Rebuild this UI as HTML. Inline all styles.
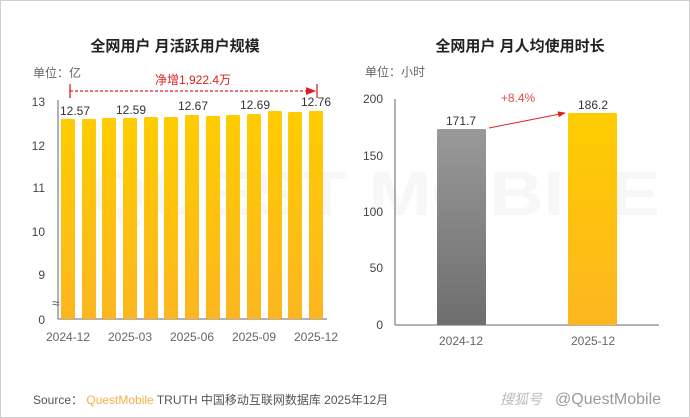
<!DOCTYPE html>
<html><head><meta charset="utf-8"><style>
html,body{margin:0;padding:0;background:#fff;}
svg{display:block;font-family:"Liberation Sans","Noto Sans CJK SC",sans-serif;}
</style></head><body>
<svg width="690" height="418" viewBox="0 0 690 418" xmlns="http://www.w3.org/2000/svg">
<defs>
<linearGradient id="yg" x1="0" y1="0" x2="0" y2="1"><stop offset="0" stop-color="#ffcc00"/><stop offset="1" stop-color="#fdb620"/></linearGradient>
<linearGradient id="gg" x1="0" y1="0" x2="0" y2="1"><stop offset="0" stop-color="#999"/><stop offset="1" stop-color="#6e6e6e"/></linearGradient>
<marker id="ar" markerWidth="8" markerHeight="6" refX="7" refY="3" orient="auto"><path d="M0,0L8,3L0,6z" fill="#e02020"/></marker>
</defs>
<rect x="0.5" y="0.5" width="689" height="417" fill="#fff" stroke="#d0d0d0"/>
<text x="90" y="215" font-size="62" fill="#f7f7f7" font-weight="bold" textLength="570" lengthAdjust="spacingAndGlyphs">QUEST MOBILE</text>
<!-- left -->
<text x="175" y="51" font-size="15" font-weight="bold" fill="#222" text-anchor="middle">全网用户 月活跃用户规模</text>
<text x="33" y="77" font-size="12" fill="#666">单位：亿</text>
<text x="193" y="84" font-size="12" fill="#e02020" text-anchor="middle">净增1,922.4万</text>
<line x1="70" y1="91" x2="315" y2="91" stroke="#e02020" stroke-width="1.3" stroke-dasharray="3,2" marker-end="url(#ar)"/>
<line x1="70" y1="84" x2="70" y2="98" stroke="#e02020" stroke-width="1.3"/>
<line x1="317" y1="84" x2="317" y2="98" stroke="#e02020" stroke-width="1.3"/>
<g font-size="12" fill="#444" text-anchor="end">
<text x="45" y="106">13</text><text x="45" y="150">12</text><text x="45" y="192">11</text><text x="45" y="236">10</text><text x="45" y="279">9</text><text x="45" y="324">0</text>
</g>
<text x="52" y="308" font-size="14" fill="#666">≈</text>
<line x1="58" y1="100" x2="58" y2="319" stroke="#666"/>
<line x1="58" y1="319" x2="327" y2="319" stroke="#666"/>
<g fill="url(#yg)">
<rect x="61" y="119" width="14" height="200" rx="1.5"/>
<rect x="82" y="119" width="14" height="200" rx="1.5"/>
<rect x="102" y="118" width="14" height="201" rx="1.5"/>
<rect x="123" y="118" width="14" height="201" rx="1.5"/>
<rect x="144" y="117" width="14" height="202" rx="1.5"/>
<rect x="164" y="117" width="14" height="202" rx="1.5"/>
<rect x="185" y="115" width="14" height="204" rx="1.5"/>
<rect x="206" y="116" width="14" height="203" rx="1.5"/>
<rect x="226" y="115" width="14" height="204" rx="1.5"/>
<rect x="247" y="114" width="14" height="205" rx="1.5"/>
<rect x="268" y="111" width="14" height="208" rx="1.5"/>
<rect x="288" y="112" width="14" height="207" rx="1.5"/>
<rect x="309" y="111" width="14" height="208" rx="1.5"/>
</g>
<g font-size="12" fill="#333" text-anchor="middle">
<text x="75" y="115">12.57</text><text x="131" y="114">12.59</text><text x="193" y="110">12.67</text><text x="255" y="109">12.69</text><text x="316" y="106">12.76</text>
</g>
<g font-size="12" fill="#666" text-anchor="middle">
<text x="68" y="341">2024-12</text><text x="130" y="341">2025-03</text><text x="192" y="341">2025-06</text><text x="254" y="341">2025-09</text><text x="316" y="341">2025-12</text>
</g>
<!-- right -->
<text x="520" y="51" font-size="15" font-weight="bold" fill="#222" text-anchor="middle">全网用户 月人均使用时长</text>
<text x="365" y="76" font-size="12" fill="#666">单位：小时</text>
<g font-size="12" fill="#444" text-anchor="end">
<text x="383" y="103">200</text><text x="383" y="160">150</text><text x="383" y="216">100</text><text x="383" y="272">50</text><text x="383" y="329">0</text>
</g>
<line x1="395" y1="99" x2="395" y2="325" stroke="#666"/>
<line x1="395" y1="325" x2="659" y2="325" stroke="#666"/>
<rect x="437" y="129" width="49" height="196" fill="url(#gg)" rx="1.5"/>
<rect x="568" y="113" width="49" height="212" fill="url(#yg)" rx="1.5"/>
<text x="461" y="125" font-size="12" fill="#333" text-anchor="middle">171.7</text>
<text x="593" y="109" font-size="12" fill="#333" text-anchor="middle">186.2</text>
<text x="518" y="102" font-size="12" fill="#e05050" text-anchor="middle">+8.4%</text>
<line x1="489" y1="128" x2="565" y2="113" stroke="#e02020" marker-end="url(#ar)"/>
<text x="461" y="345" font-size="12" fill="#666" text-anchor="middle">2024-12</text>
<text x="593" y="345" font-size="12" fill="#666" text-anchor="middle">2025-12</text>
<!-- footer -->
<text x="33" y="404" font-size="12" fill="#555">Source： <tspan fill="#f5b041">QuestMobile</tspan> TRUTH 中国移动互联网数据库 2025年12月</text>
<text x="500" y="404" font-size="14" fill="#bbb" font-style="italic">搜狐号</text>
<text x="555" y="404" font-size="16" fill="#999">@QuestMobile</text>
</svg>
</body></html>
